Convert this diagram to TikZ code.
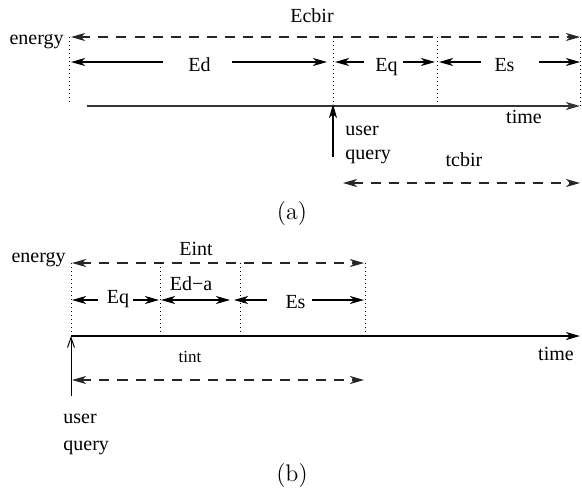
\documentclass[tikz,border=0pt]{standalone}
\usepackage{fontspec}
\newfontfamily\tms{Liberation Serif}
\usetikzlibrary{arrows.meta}
\begin{document}
\begin{tikzpicture}[x=0.5pt,y=-0.5pt,
  lbl/.style={font=\tms\fontsize{10}{12}\selectfont, inner sep=0pt, anchor=base},
  sarr/.style={line width=0.55pt, -{Stealth[length=7pt,width=4pt,inset=2pt]}},
  dsarr/.style={line width=0.55pt, {Stealth[length=7pt,width=4pt,inset=2pt]}-{Stealth[length=7pt,width=4pt,inset=2pt]}},
  dashedarr/.style={dsarr, dash pattern=on 5pt off 4pt, color=black!85},
  axisline/.style={line width=0.75pt, -{Stealth[length=7pt,width=4pt,inset=2pt]}},
  dotline/.style={line width=0.5pt, dash pattern=on 0.5pt off 1.5pt},
  caplbl/.style={font=\large, inner sep=0pt},
]
\useasboundingbox (0,0) rectangle (582,494);

% ================= (a) =================
\node[lbl, anchor=base east] (energyA) at (64,44) {energy};
\node[lbl] (Ecbir) at (312,22) {Ecbir};
\coordinate (ecL) at (71,37);
\coordinate (ecR) at (580,37);
\draw[dashedarr] (ecL) -- (ecR);

% dotted verticals
\coordinate (va0t) at (69,37);   \coordinate (va0b) at (69,103);
\coordinate (va1t) at (333,37);  \coordinate (va1b) at (333,106);
\coordinate (va2t) at (437,37);  \coordinate (va2b) at (437,106);
\coordinate (va3t) at (580,37);  \coordinate (va3b) at (580,106);
\draw[dotline] (va0t) -- (va0b);
\draw[dotline] (va1t) -- (va1b);
\draw[dotline] (va2t) -- (va2b);
\draw[dotline] (va3t) -- (va3b);

% Ed
\node[lbl] (EdA) at (199.5,71) {Ed};
\coordinate (edLs) at (163,62); \coordinate (edL) at (71,62);
\coordinate (edRs) at (232,62); \coordinate (edR) at (327,62);
\draw[sarr] (edLs) -- (edL);
\draw[sarr] (edRs) -- (edR);
% Eq
\node[lbl] (EqA) at (386.5,71) {Eq};
\coordinate (eqLs) at (364,62); \coordinate (eqL) at (335,62);
\coordinate (eqRs) at (403,62); \coordinate (eqR) at (435,62);
\draw[sarr] (eqLs) -- (eqL);
\draw[sarr] (eqRs) -- (eqR);
% Es
\node[lbl] (EsA) at (504.5,71) {Es};
\coordinate (esLs) at (481,62); \coordinate (esL) at (439,62);
\coordinate (esRs) at (539,62); \coordinate (esR) at (580,62);
\draw[sarr] (esLs) -- (esL);
\draw[sarr] (esRs) -- (esR);

% time axis
\coordinate (taS) at (87,106); \coordinate (taE) at (580,106);
\draw[axisline, color=black!80] (taS) -- (taE);
\node[lbl] (timeA) at (524,123) {time};

% user query
\coordinate (uqS) at (333,157); \coordinate (uqE) at (333,104);
\draw[sarr] (uqS) -- (uqE);
\node[lbl, anchor=base west] (userA) at (345,135) {user};
\node[lbl, anchor=base west] (queryA) at (345,159) {query};

% tcbir
\node[lbl] (tcbir) at (464,166) {tcbir};
\coordinate (tcL) at (343,183); \coordinate (tcR) at (580,183);
\draw[dashedarr] (tcL) -- (tcR);

\node[caplbl] (capA) at (292,214) {(a)};

% ================= (b) =================
\node[lbl, anchor=base east] (energyB) at (66,262) {energy};
\node[lbl] (Eint) at (196,255) {Eint};
\coordinate (eiL) at (72,263);
\coordinate (eiR) at (364,263);
\draw[dashedarr] (eiL) -- (eiR);

\coordinate (vb0t) at (71,263);   \coordinate (vb0b) at (71,336);
\coordinate (vb1t) at (160,263);  \coordinate (vb1b) at (160,336);
\coordinate (vb2t) at (240,263);  \coordinate (vb2b) at (240,336);
\coordinate (vb3t) at (365,263);  \coordinate (vb3b) at (365,336);
\draw[dotline] (vb0t) -- (vb0b);
\draw[dotline] (vb1t) -- (vb1b);
\draw[dotline] (vb2t) -- (vb2b);
\draw[dotline] (vb3t) -- (vb3b);

% Eq
\node[lbl] (EqB) at (118,303) {Eq};
\coordinate (eqbLs) at (98,300);  \coordinate (eqbL) at (72,300);
\coordinate (eqbRs) at (133,300); \coordinate (eqbR) at (159,300);
\draw[sarr] (eqbLs) -- (eqbL);
\draw[sarr] (eqbRs) -- (eqbR);
% Ed-a
\node[lbl] (EdaB) at (191,290) {Ed−a};
\coordinate (edaL) at (161,300); \coordinate (edaR) at (230,300);
\draw[dsarr] (edaL) -- (edaR);
% Es
\node[lbl] (EsB) at (295.5,308) {Es};
\coordinate (esbLs) at (267,300); \coordinate (esbL) at (234,300);
\coordinate (esbRs) at (312,300); \coordinate (esbR) at (364,300);
\draw[sarr] (esbLs) -- (esbL);
\draw[sarr] (esbRs) -- (esbR);

% time axis
\coordinate (tbS) at (71,336); \coordinate (tbE) at (580,336);
\draw[axisline] (tbS) -- (tbE);
\node[lbl] (timeB) at (556,360) {time};

% tint
\node[lbl, font=\tms\fontsize{8.5}{10}\selectfont] (tint) at (190,362) {tint};
\coordinate (tiL) at (72,380); \coordinate (tiR) at (364,380);
\draw[dashedarr] (tiL) -- (tiR);

% user query
\coordinate (uqbS) at (71,396); \coordinate (uqbE) at (71,336);
\draw[line width=0.5pt, -{Straight Barb[length=5pt,width=3.5pt]}] (uqbS) -- (uqbE);
\node[lbl, anchor=base west] (userB) at (63,423) {user};
\node[lbl, anchor=base west] (queryB) at (63,450) {query};

\node[caplbl] (capB) at (292,475) {(b)};
\end{tikzpicture}
\end{document}
